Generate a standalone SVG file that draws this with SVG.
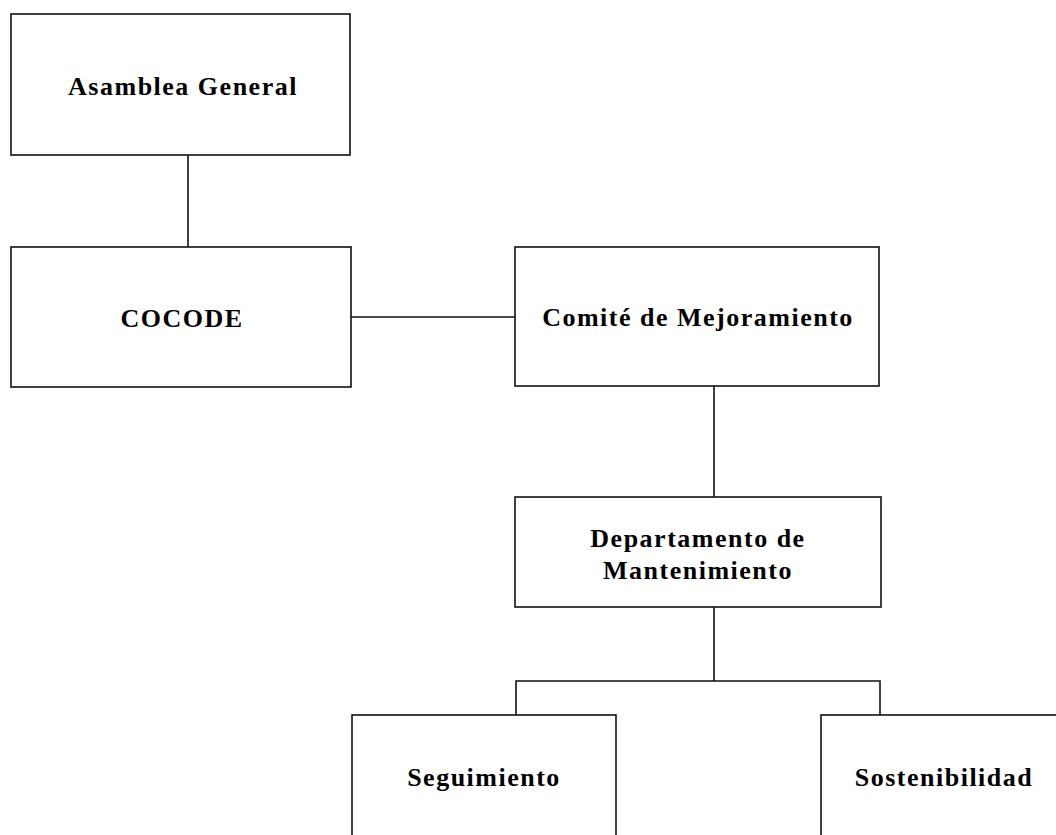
<svg xmlns="http://www.w3.org/2000/svg" width="1056" height="835" viewBox="0 0 1056 835">
<style>
.box{fill:#fff;stroke:#111;stroke-width:1.6}
.lbl{font-family:"Liberation Serif","Times New Roman",serif;font-weight:bold;font-size:26px;letter-spacing:1.5px;fill:#000;text-anchor:middle}
.con{stroke:#111;stroke-width:1.6;fill:none}
</style>
<rect width="1056" height="835" fill="#fff"/>
<g id="connectors">
<line class="con" x1="188" y1="155" x2="188" y2="247"/>
<line class="con" x1="351" y1="317" x2="515" y2="317"/>
<line class="con" x1="714" y1="386" x2="714" y2="497"/>
<line class="con" x1="714" y1="607" x2="714" y2="681"/>
<polyline class="con" points="516,715 516,681 880,681 880,715"/>
</g>
<g id="asamblea">
<rect class="box" x="11" y="14" width="339" height="141"/>
<text class="lbl" x="183" y="95">Asamblea General</text>
</g>
<g id="cocode">
<rect class="box" x="11" y="247" width="340" height="140"/>
<text class="lbl" x="182" y="327">COCODE</text>
</g>
<g id="comite">
<rect class="box" x="515" y="247" width="364" height="139"/>
<text class="lbl" x="698" y="326">Comité de Mejoramiento</text>
</g>
<g id="departamento">
<rect class="box" x="515" y="497" width="366" height="110"/>
<text class="lbl" x="698" y="547">Departamento de</text>
<text class="lbl" x="698" y="579">Mantenimiento</text>
</g>
<g id="seguimiento">
<rect class="box" x="352" y="715" width="264" height="150"/>
<text class="lbl" x="484" y="786">Seguimiento</text>
</g>
<g id="sostenibilidad">
<rect class="box" x="821" y="715" width="264" height="150"/>
<text class="lbl" x="944" y="786">Sostenibilidad</text>
</g>
</svg>
